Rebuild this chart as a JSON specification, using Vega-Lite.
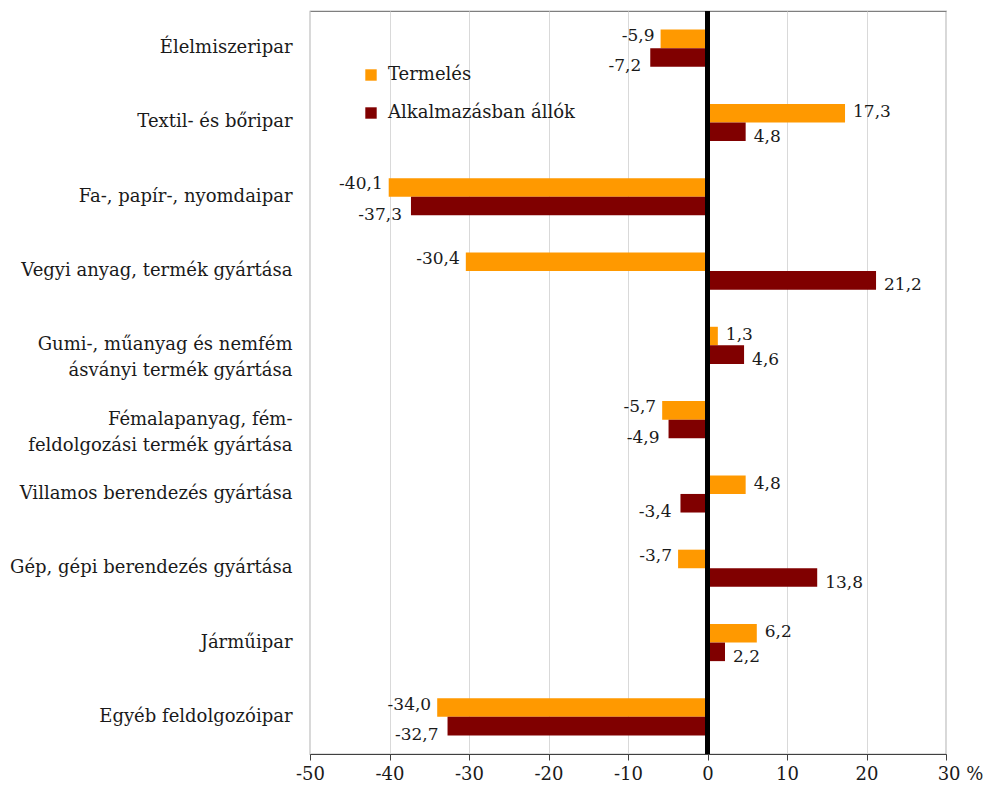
{
  "$schema": "https://vega.github.io/schema/vega-lite/v6.json",
  "autosize": "none",
  "padding": {"left": 310, "top": 11, "right": 38, "bottom": 37},
  "width": 636,
  "height": 743,
  "background": "white",
  "config": {
    "locale": {"number": {"decimal": ",", "thousands": " ", "grouping": [3], "currency": ["", ""], "minus": "-"}},
    "font": "DejaVu Serif",
    "view": {"stroke": "#7f7f7f", "strokeWidth": 1.2},
    "text": {"font": "DejaVu Serif", "fontSize": 17, "fill": "#1a1a1a"}
  },
  "data": {
    "values": [
      {"cat": "Élelmiszeripar", "series": "Termelés", "value": -5.9},
      {"cat": "Élelmiszeripar", "series": "Alkalmazásban állók", "value": -7.2},
      {"cat": "Textil- és bőripar", "series": "Termelés", "value": 17.3},
      {"cat": "Textil- és bőripar", "series": "Alkalmazásban állók", "value": 4.8},
      {"cat": "Fa-, papír-, nyomdaipar", "series": "Termelés", "value": -40.1},
      {"cat": "Fa-, papír-, nyomdaipar", "series": "Alkalmazásban állók", "value": -37.3},
      {"cat": "Vegyi anyag, termék gyártása", "series": "Termelés", "value": -30.4},
      {"cat": "Vegyi anyag, termék gyártása", "series": "Alkalmazásban állók", "value": 21.2},
      {"cat": "Gumi-, műanyag és nemfém|ásványi termék gyártása", "series": "Termelés", "value": 1.3},
      {"cat": "Gumi-, műanyag és nemfém|ásványi termék gyártása", "series": "Alkalmazásban állók", "value": 4.6},
      {"cat": "Fémalapanyag, fém-|feldolgozási termék gyártása", "series": "Termelés", "value": -5.7},
      {"cat": "Fémalapanyag, fém-|feldolgozási termék gyártása", "series": "Alkalmazásban állók", "value": -4.9},
      {"cat": "Villamos berendezés gyártása", "series": "Termelés", "value": 4.8},
      {"cat": "Villamos berendezés gyártása", "series": "Alkalmazásban állók", "value": -3.4},
      {"cat": "Gép, gépi berendezés gyártása", "series": "Termelés", "value": -3.7},
      {"cat": "Gép, gépi berendezés gyártása", "series": "Alkalmazásban állók", "value": 13.8},
      {"cat": "Járműipar", "series": "Termelés", "value": 6.2},
      {"cat": "Járműipar", "series": "Alkalmazásban állók", "value": 2.2},
      {"cat": "Egyéb feldolgozóipar", "series": "Termelés", "value": -34.0},
      {"cat": "Egyéb feldolgozóipar", "series": "Alkalmazásban állók", "value": -32.7}
    ]
  },
  "layer": [
    {
      "mark": {"type": "bar"},
      "encoding": {
        "y": {
          "field": "cat", "type": "nominal", "sort": null,
          "scale": {"paddingInner": 0.5, "paddingOuter": 0.25},
          "axis": {
            "title": null, "ticks": false, "domain": false, "grid": false,
            "labelExpr": "split(replace(datum.label, 'fém-|', 'fém-\u00a0\u00a0\u00a0\u00a0\u00a0\u00a0|'), '|')",
            "labelFont": "DejaVu Serif", "labelFontSize": 18, "labelColor": "#1a1a1a",
            "labelPadding": 18, "labelLineHeight": 26, "labelLimit": 400
          }
        },
        "yOffset": {"field": "series", "type": "nominal", "sort": ["Termelés", "Alkalmazásban állók"], "scale": {"paddingInner": 0}},
        "x": {
          "field": "value", "type": "quantitative",
          "scale": {"domain": [-50, 30], "nice": false, "zero": false},
          "axis": {
            "title": null, "values": [-50, -45, -40, -35, -30, -25, -20, -15, -10, -5, 0, 5, 10, 15, 20, 25, 30],
            "grid": true, "gridColor": "#d9d9d9", "gridWidth": 1,
            "gridOpacity": {"condition": {"test": "datum.value % 10 != 0", "value": 0}, "value": 1},
            "domainColor": "#404040", "domainWidth": 1.2,
            "tickColor": "#404040", "tickWidth": 1,
            "tickSize": {"condition": {"test": "datum.value % 10 != 0", "value": -5}, "value": 6},
            "labelFont": "DejaVu Serif", "labelFontSize": 18, "labelColor": "#1a1a1a",
            "labelPadding": 5, "labelFlush": false, "labelOverlap": false,
            "labelExpr": "datum.value % 10 != 0 ? '' : (datum.value == 30 ? '30 %' : datum.label)",
            "labelOffset": {"condition": {"test": "datum.value == 30", "value": 14}, "value": 0}
          }
        },
        "color": {
          "field": "series", "type": "nominal",
          "scale": {"domain": ["Termelés", "Alkalmazásban állók"], "range": ["#ff9900", "#800000"]},
          "legend": {
            "title": null, "orient": "none", "legendX": 52, "legendY": 55,
            "symbolType": "square", "symbolSize": 130, "symbolStrokeWidth": 0,
            "labelFont": "DejaVu Serif", "labelFontSize": 18, "labelColor": "#1a1a1a",
            "labelLimit": 400, "rowPadding": 20, "labelOffset": 8
          }
        }
      }
    },
    {
      "transform": [{"filter": "datum.value >= 0 && datum.series == 'Termelés'"}],
      "mark": {"type": "text", "align": "left", "baseline": "middle", "dx": 8, "dy": -1},
      "encoding": {
        "y": {"field": "cat", "type": "nominal", "sort": null},
        "yOffset": {"field": "series", "type": "nominal", "sort": ["Termelés", "Alkalmazásban állók"]},
        "x": {"field": "value", "type": "quantitative"},
        "text": {"field": "value", "type": "quantitative", "format": ".1f"}
      }
    },
    {
      "transform": [{"filter": "datum.value >= 0 && datum.series != 'Termelés'"}],
      "mark": {"type": "text", "align": "left", "baseline": "middle", "dx": 8, "dy": 5},
      "encoding": {
        "y": {"field": "cat", "type": "nominal", "sort": null},
        "yOffset": {"field": "series", "type": "nominal", "sort": ["Termelés", "Alkalmazásban állók"]},
        "x": {"field": "value", "type": "quantitative"},
        "text": {"field": "value", "type": "quantitative", "format": ".1f"}
      }
    },
    {
      "transform": [{"filter": "datum.value < 0 && datum.series == 'Termelés'"}],
      "mark": {"type": "text", "align": "right", "baseline": "middle", "dx": -6, "dy": -3},
      "encoding": {
        "y": {"field": "cat", "type": "nominal", "sort": null},
        "yOffset": {"field": "series", "type": "nominal", "sort": ["Termelés", "Alkalmazásban állók"]},
        "x": {"field": "value", "type": "quantitative"},
        "text": {"field": "value", "type": "quantitative", "format": ".1f"}
      }
    },
    {
      "transform": [{"filter": "datum.value < 0 && datum.series != 'Termelés'"}],
      "mark": {"type": "text", "align": "right", "baseline": "middle", "dx": -9, "dy": 9},
      "encoding": {
        "y": {"field": "cat", "type": "nominal", "sort": null},
        "yOffset": {"field": "series", "type": "nominal", "sort": ["Termelés", "Alkalmazásban állók"]},
        "x": {"field": "value", "type": "quantitative"},
        "text": {"field": "value", "type": "quantitative", "format": ".1f"}
      }
    },
    {
      "mark": {"type": "rule", "color": "black", "strokeWidth": 5},
      "encoding": {
        "x": {"datum": 0, "type": "quantitative"}
      }
    }
  ]
}
